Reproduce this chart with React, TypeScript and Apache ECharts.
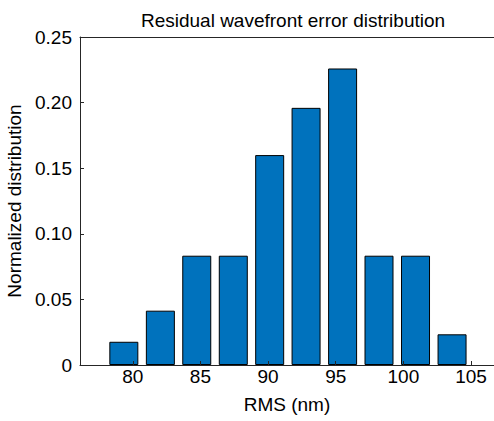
import React, { useEffect, useRef } from "react";
import * as echarts from "echarts";

const binCenters = [79.34, 82.04, 84.73, 87.43, 90.12, 92.81, 95.51, 98.2, 100.9, 103.6];
const values = [0.0177, 0.0414, 0.0833, 0.0833, 0.16, 0.196, 0.226, 0.0833, 0.0833, 0.0234];
const xTicks = [80, 85, 90, 95, 100, 105];
const yTicks = [0, 0.05, 0.1, 0.15, 0.2, 0.25];

const FONT = "'Liberation Sans', Arial, Helvetica, sans-serif";
const AX = "#262626";
const FS = 19;

export default function App() {
  const ref = useRef<HTMLDivElement>(null);
  useEffect(() => {
    if (!ref.current) return;
    const chart = echarts.init(ref.current, undefined, { renderer: "svg" });
    chart.setOption({
      animation: false,
      backgroundColor: "#ffffff",
      title: {
        text: "Residual wavefront error distribution",
        left: 288,
        top: 6,
        textAlign: "center",
        textStyle: { fontFamily: FONT, fontSize: FS, fontWeight: "normal", color: "#000" },
      },
      grid: { left: 80, top: 37, right: 0, bottom: 56, containLabel: false, outerBoundsMode: "none" },
      xAxis: [
        {
          type: "value",
          min: 76.1,
          max: 106.7,
          z: 5,
          name: "RMS (nm)",
          nameLocation: "middle",
          nameGap: 30,
          nameTextStyle: { fontFamily: FONT, fontSize: FS, color: "#000" },
          splitLine: { show: false },
          axisLine: { show: true, lineStyle: { color: AX, width: 1 } },
          axisTick: { show: true, inside: true, length: 4, customValues: xTicks, lineStyle: { color: AX } },
          axisLabel: {
            customValues: xTicks,
            margin: 2,
            fontFamily: FONT,
            fontSize: FS,
            color: "#000",
            formatter: (v: number) => String(v),
          },
        },
        {
          type: "value",
          position: "top",
          min: 76.1,
          max: 106.7,
          axisLine: { show: true, lineStyle: { color: AX, width: 1 } },
          axisTick: { show: false },
          axisLabel: { show: false },
          splitLine: { show: false },
        },
      ],
      yAxis: {
        type: "value",
        min: 0,
        max: 0.25,
        interval: 0.05,
        z: 5,
        name: "Normalized distribution",
        nameLocation: "middle",
        nameGap: 49,
        nameTextStyle: { fontFamily: FONT, fontSize: FS, color: "#000" },
        splitLine: { show: false },
        axisLine: { show: true, lineStyle: { color: AX, width: 1 } },
        axisTick: { show: true, inside: true, length: 4, customValues: yTicks, lineStyle: { color: AX } },
        axisLabel: {
          margin: 8,
          fontFamily: FONT,
          fontSize: FS,
          color: "#000",
          formatter: (v: number) => (v === 0 ? "0" : v.toFixed(2)),
        },
      },
      series: [
        {
          type: "bar",
          xAxisIndex: 0,
          barWidth: 29,
          data: binCenters.map((c, i) => [c, values[i]]),
          itemStyle: { color: "#0072BD", borderColor: "#000", borderWidth: 1 },
        },
      ],
    });
    return () => chart.dispose();
  }, []);
  return <div ref={ref} style={{ position: "absolute", left: 0, top: 0, width: 494, height: 421 }} />;
}
